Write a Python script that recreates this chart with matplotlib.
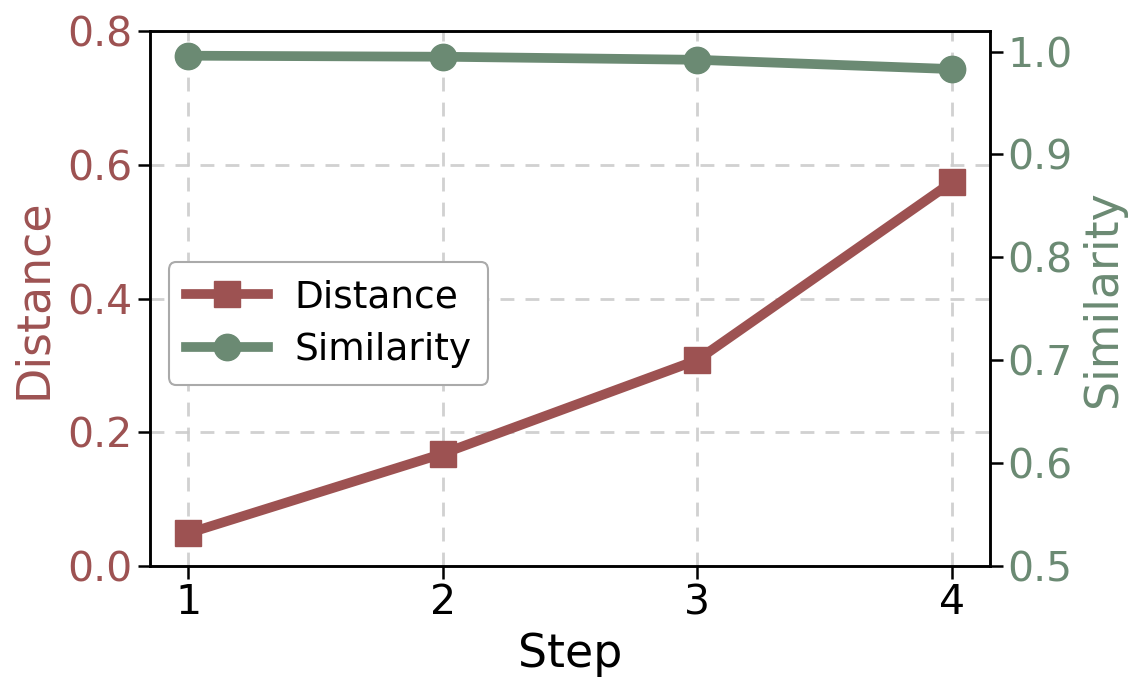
import matplotlib
matplotlib.use("Agg")
import matplotlib.pyplot as plt

steps = [1, 2, 3, 4]
distance = [0.049, 0.168, 0.308, 0.574]
similarity = [0.996, 0.995, 0.992, 0.983]

c_dist = "#9D5252"
c_sim = "#6B8A73"

fig = plt.figure(figsize=(11.42, 6.89), dpi=100)
ax = fig.add_axes([0.1313, 0.1785, 0.7357, 0.7765])
ax2 = ax.twinx()

l1, = ax.plot(steps, distance, color=c_dist, marker="s", markersize=19,
              linewidth=7, label="Distance", zorder=3)
l2, = ax2.plot(steps, similarity, color=c_sim, marker="o", markersize=19,
               linewidth=7, label="Similarity", zorder=3)

ax.set_ylim(0.0, 0.8)
ax2.set_ylim(0.5, 1.02)
ax.set_xticks(steps)
ax.set_yticks([0.0, 0.2, 0.4, 0.6, 0.8])
ax2.set_yticks([0.5, 0.6, 0.7, 0.8, 0.9, 1.0])

ax.grid(True, linestyle=(0, (5, 4)), color="#cccccc", linewidth=2.0, alpha=0.9)
ax.set_axisbelow(True)

ax.set_xlabel("Step", fontsize=33, labelpad=6)
ax.set_ylabel("Distance", fontsize=33, color=c_dist, labelpad=8)
ax2.set_ylabel("Similarity", fontsize=33, color=c_sim, labelpad=6)

ax.tick_params(axis="x", labelsize=29.5, length=9, width=1.8)
ax.tick_params(axis="y", labelsize=29.5, length=9, width=1.8, labelcolor=c_dist)
ax2.tick_params(axis="y", labelsize=29.5, length=9, width=1.8, labelcolor=c_sim)

for a in (ax, ax2):
    for s in a.spines.values():
        s.set_linewidth(1.8)

leg = ax.legend([l1, l2], ["Distance", "Similarity"], loc="center left",
                bbox_to_anchor=(0.0, 0.453), fontsize=27, handlelength=2.2,
                framealpha=1.0, edgecolor="#aaaaaa", borderpad=0.45,
                labelspacing=0.45, handletextpad=0.7)
leg.get_frame().set_linewidth(1.5)

fig.savefig("out.png", dpi=100)
